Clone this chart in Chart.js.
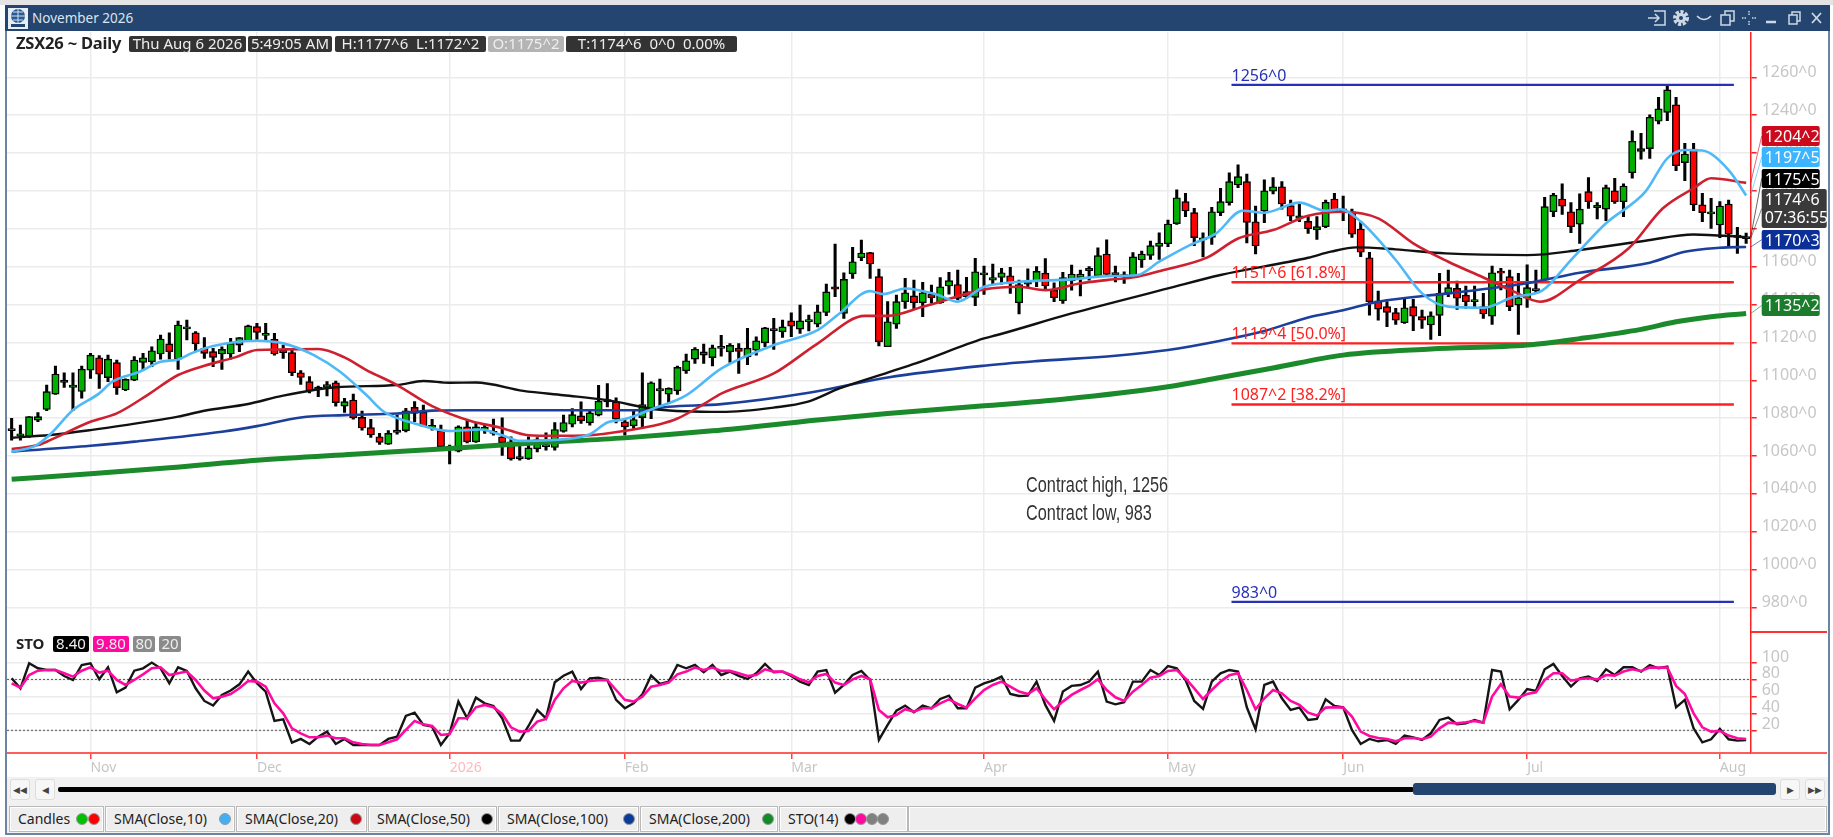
<!DOCTYPE html>
<html>
<head>
<meta charset="utf-8">
<title>November 2026</title>
<script src="https://cdn.jsdelivr.net/npm/chart.js@4"></script>
<style>
html, body { margin: 0; padding: 0; background: #fff; width: 1833px; height: 837px; overflow: hidden; font-family: "Noto Sans", sans-serif; }
body { filter: blur(0.35px); }
.abs { position: absolute; }
canvas { position: absolute; left: 7px; display: block; }
.pill { position: absolute; height: 16px; line-height: 15px; border-radius: 2px; background: #333; color: #eee; font-size: 15px; text-align: center; white-space: pre; }
.tab { position: absolute; top: 806px; height: 24px; line-height: 23px; background: #eee; border: 1px solid #b9b9b9; box-shadow: inset 0 0 0 1px #fff; font-size: 14px; color: #222; padding-left: 8px; box-sizing: content-box; white-space: nowrap; }
.dot { position: absolute; top: 6px; width: 12px; height: 12px; border-radius: 50%; border: 1px solid #999; box-sizing: border-box; }
.btn { position: absolute; top: 779px; width: 20px; height: 21px; background: #f7f7f7; border: 1px solid #ddd; border-radius: 3px; color: #444; font-size: 9px; line-height: 20px; text-align: center; box-sizing: border-box; }
</style>
</head>
<body>
<!-- window frame -->
<div class="abs" style="left:0;top:0;width:1833px;height:5px;background:#e4e4e4"></div>
<div class="abs" style="left:5px;top:5px;width:2px;height:830px;background:#6d84a0"></div>
<div class="abs" style="left:1828px;top:5px;width:2px;height:830px;background:#6d84a0"></div>
<div class="abs" style="left:5px;top:5px;width:1825px;height:26px;background:#24456f"></div>
<svg class="abs" style="left:8px;top:8px" width="20" height="21" viewBox="0 0 20 21">
  <rect width="20" height="21" fill="#e8eef5"/><circle cx="10" cy="8" r="7" fill="#2b5a92"/>
  <path d="M3 8h14M10 1v14M5 4h10M5 12h10" stroke="#cfe0f2" stroke-width="1" fill="none"/><rect x="3" y="16" width="14" height="3" fill="#24456f"/>
</svg>
<div class="abs" style="left:32px;top:8px;color:#dce4ee;font-size:13.5px;line-height:20px">November 2026</div>
<svg class="abs" style="left:1645px;top:7px" width="182" height="22" fill="none" stroke="#cdd8e4" stroke-width="1.5">
  <path d="M3 11h11M10 7l4 4-4 4M9 4h11v14H9" />
  <circle cx="36" cy="11" r="6" stroke-width="4" stroke-dasharray="3 1.5"/><circle cx="36" cy="11" r="5" fill="#cdd8e4" stroke="none"/><circle cx="36" cy="11" r="2" fill="#24456f" stroke="none"/>
  <path d="M52 9q7 7 14 0"/>
  <path d="M76 8h9v10h-9zM80 8V4h9v10h-4"/>
  <path d="M104 4v4M104 14v4M97 11h4M107 11h4" stroke-dasharray="1.5 1"/>
  <path d="M121 15h10" stroke-width="2.5"/>
  <path d="M144 8h8v9h-8zM147 8V5h8v9h-3"/>
  <path d="M167 6l9 10M176 6l-9 10" stroke-width="1.8"/>
</svg>

<canvas id="priceChart" width="1820" height="600" style="top:32px"></canvas>
<canvas id="stoChart" width="1820" height="145" style="top:632px"></canvas>

<!-- right of the plot: pane divider and bottom rule go on past the scale -->
<div class="abs" style="left:1751px;top:631px;width:76px;height:1.5px;background:#ff3030"></div>
<div class="abs" style="left:1751px;top:752px;width:76px;height:2px;background:#ff5c5c"></div>

<!-- readout row -->
<div class="abs" style="left:16px;top:33px;font-size:16.5px;font-weight:700;color:#222;line-height:20px;letter-spacing:-.2px">ZSX26 ~ Daily</div>
<div class="pill" style="left:129px;top:36px;width:117px">Thu Aug 6 2026</div>
<div class="pill" style="left:248px;top:36px;width:84px">5:49:05 AM</div>
<div class="pill" style="left:335px;top:36px;width:151px">H:1177^6  L:1172^2</div>
<div class="pill" style="left:488px;top:36px;width:76px;background:#b4b4b4">O:1175^2</div>
<div class="pill" style="left:566px;top:36px;width:171px">T:1174^6  0^0  0.00%</div>

<!-- stochastic readout -->
<div class="abs" style="left:16px;top:633px;font-size:15px;font-weight:700;color:#222;line-height:20px">STO</div>
<div class="pill" style="left:53px;top:636px;width:36px;background:#000">8.40</div>
<div class="pill" style="left:93px;top:636px;width:36px;background:#ff0aa0">9.80</div>
<div class="pill" style="left:133px;top:636px;width:22px;background:#8a8a8a">80</div>
<div class="pill" style="left:159px;top:636px;width:22px;background:#8a8a8a">20</div>

<!-- scroller -->
<div class="abs" style="left:7px;top:777px;width:1821px;height:29px;background:#f1f1f1"></div>
<div class="btn" style="left:10px">&#9664;&#9664;</div>
<div class="btn" style="left:35px">&#9664;</div>
<div class="abs" style="left:58px;top:787px;width:1356px;height:5px;background:#000;border-radius:2px"></div>
<div class="abs" style="left:1413px;top:783px;width:363px;height:12px;background:#24456f;border-radius:3px"></div>
<div class="btn" style="left:1780px">&#9654;</div>
<div class="btn" style="left:1805px">&#9654;&#9654;</div>

<!-- study tabs -->
<div class="abs" style="left:7px;top:804px;width:1821px;height:29px;background:#f1f1f1"></div>
<div class="abs" style="left:5px;top:833px;width:1825px;height:2px;background:#6d84a0"></div>
<div class="tab" style="left:9px;width:85px">Candles<span class="dot" style="left:66px;background:#00c000"></span><span class="dot" style="left:78px;background:#ff0000"></span></div>
<div class="tab" style="left:105px;width:120px">SMA(Close,10)<span class="dot" style="left:113px;background:#3fb0f5"></span></div>
<div class="tab" style="left:236px;width:121px">SMA(Close,20)<span class="dot" style="left:113px;background:#c80a14"></span></div>
<div class="tab" style="left:368px;width:119px">SMA(Close,50)<span class="dot" style="left:112px;background:#000"></span></div>
<div class="tab" style="left:498px;width:131px">SMA(Close,100)<span class="dot" style="left:124px;background:#0a3a9a"></span></div>
<div class="tab" style="left:640px;width:128px">SMA(Close,200)<span class="dot" style="left:121px;background:#128a28"></span></div>
<div class="tab" style="left:779px;width:119px">STO(14)<span class="dot" style="left:64px;background:#000"></span><span class="dot" style="left:75px;background:#ff0aa0"></span><span class="dot" style="left:86px;background:#808080"></span><span class="dot" style="left:97px;background:#808080"></span></div>
<div class="tab" style="left:908px;width:909px"></div>

<script>
// month labels on the time axis, and the bar each month starts at
const monthLabels = ['Nov', 'Dec', '2026', 'Feb', 'Mar', 'Apr', 'May', 'Jun', 'Jul', 'Aug'];
const monthStarts = [9, 28, 50, 70, 89, 111, 132, 152, 173, 195];

const priceTicks = [980, 1000, 1020, 1040, 1060, 1080, 1100, 1120, 1140, 1160, 1180, 1200, 1220, 1240, 1260];
const stoTicks = [20, 40, 60, 80, 100];

// daily candles, one entry per bar
const highs = [
  1079.9,1076.4,1080.8,1082.9,1097.5,1107.5,1104,1104,1107.5,1114.2,
  1113,1113.3,1110.7,1100.8,1112.5,1114.2,1117.7,1123.9,1125.1,1131.3,
  1131.8,1125.7,1122.5,1116.9,1117.7,1122.1,1122.5,1129.2,1130.1,1130.1,
  1124.8,1118.6,1116,1105.1,1101.9,1097,1099.3,1099.6,1090.5,1092.7,
  1083.8,1079.4,1072,1073.4,1081.6,1085.2,1088.7,1086.9,1079.4,1076.4,
  1065.8,1075.9,1078.9,1077.7,1076.8,1079.5,1080.2,1070.1,1066.7,1070.1,
  1069.8,1072.2,1077.7,1081.6,1085.1,1088.6,1084.6,1097.4,1098.3,1090.7,
  1079.8,1084.2,1103.9,1099.2,1100.6,1096,1107.5,1113.8,1117.3,1119.1,
  1118.6,1123.8,1119.4,1119.4,1127.4,1123,1127.9,1132.7,1131.8,1135.6,
  1139.7,1134.4,1139.7,1150.8,1171.9,1156.8,1170.2,1174,1167.5,1158.7,
  1141.5,1145,1153.8,1152.9,1151.7,1150.3,1154.2,1157,1158.2,1154.3,
  1164.4,1160.3,1161.4,1159.1,1159.6,1152.9,1158.9,1160,1164.2,1151.5,
  1157,1160.8,1158.2,1160,1170,1174.1,1160.3,1157.3,1167.4,1168.2,
  1173.5,1177.9,1184.6,1200.5,1198.7,1190.8,1177.9,1191.3,1201.3,1209.6,
  1213.7,1208.9,1192,1205.8,1207,1204.9,1195.2,1193.8,1186.4,1186.4,
  1195.2,1198.7,1197.3,1190.4,1183.8,1167.6,1147.1,1141.5,1138,1143.3,
  1142.7,1137.1,1136.2,1156.5,1158.2,1152.4,1149.8,1149.8,1145.9,1160.3,
  1159.1,1158.2,1156.5,1160.9,1158.2,1196.6,1198.7,1203.7,1193.8,1198.4,
  1207,1193.8,1203.1,1206.7,1203.7,1231.7,1230.4,1240.1,1249.4,1256,
  1249.4,1225.1,1225.1,1198.7,1196.1,1194.3,1195.2,1180.8,1177.75
];
const opens = [
  1073.4,1070.6,1070.2,1079,1084.6,1092.7,1100,1096.3,1094.1,1105.4,
  1111.9,1101.4,1109.3,1094.9,1100.1,1109.5,1109.8,1113.9,1119.2,1111.1,
  1127.1,1125.1,1116.9,1115.1,1113.9,1113.9,1118.6,1120.9,1128.3,1123.7,
  1121.6,1114.6,1114.6,1104,1099.3,1095.2,1096.3,1098.7,1086.4,1089.6,
  1080.4,1075,1070.2,1066.3,1072.5,1073.4,1085.7,1083.1,1075.1,1073.4,
  1064,1062.6,1075.4,1067.5,1074,1071.9,1070.1,1067.5,1058.5,1058.5,
  1063.8,1064.9,1064.5,1073,1076.8,1081.2,1077.5,1081.6,1088.6,1088.6,
  1078.1,1075.9,1080.3,1085.1,1094.4,1092.7,1094.4,1105,1111.2,1115,
  1112,1116.8,1115,1117,1112.4,1115.9,1119.8,1126.1,1125.6,1131.4,
  1127,1130.9,1129.7,1135.8,1149.4,1135.3,1156.2,1164.7,1167.4,1154.7,
  1117.7,1129.7,1141.5,1144.6,1140.9,1145.5,1140.9,1149.8,1150.6,1146.8,
  1143.8,1155.6,1152.9,1154.3,1155.2,1140.9,1150.8,1152,1156.6,1147.6,
  1142,1152.6,1154.2,1157.9,1155.2,1166.7,1156.4,1154.7,1154.3,1163.5,
  1166,1170.7,1172.1,1182.7,1194.3,1188.5,1174.1,1175.5,1188.5,1193.8,
  1203.1,1204.9,1183.7,1189.4,1199.8,1202.2,1192.2,1185.5,1183.9,1179.4,
  1181.1,1195.7,1189.4,1189,1179.9,1164.7,1142,1138.9,1135.7,1130.4,
  1138.9,1133.6,1129.2,1134.3,1145.9,1148.5,1145,1141.5,1138.9,1133.9,
  1157.7,1154.7,1139.7,1143.3,1147.3,1152.9,1189,1195.7,1189,1182.5,
  1199.6,1191.2,1190.4,1200.1,1194.3,1209.6,1220.9,1222.3,1236.8,1241.5,
  1245.4,1214.9,1222.1,1192.6,1187.8,1182,1193.1,1176.5,1175.25
];
const closes = [
  1073.4,1070.6,1080.8,1080.8,1094,1103.3,1098.9,1096.3,1105.9,1113.3,
  1103.3,1111.2,1096.1,1100.5,1110.7,1111.9,1115.6,1121.8,1115.1,1129.2,
  1127.1,1119.2,1114.2,1112.1,1116.3,1119.5,1122.5,1128.7,1125.3,1123.7,
  1113.9,1114.6,1104,1101.5,1094.5,1095.2,1097.8,1088.2,1088.7,1080.2,
  1074.8,1071.1,1067.2,1072,1072.5,1083.9,1082.5,1075.8,1075.1,1064.9,
  1064,1075.4,1067.5,1075.4,1074,1071.9,1067,1058.5,1058.5,1064.3,
  1068.7,1064.9,1074,1077.7,1081.9,1078.6,1082.8,1089,1088.6,1079.5,
  1075.4,1079.3,1087.2,1098.7,1094.4,1095.7,1106.8,1110.3,1116.4,1113.3,
  1117.2,1116.8,1118.4,1115.2,1117,1120.9,1127.7,1127,1128.2,1128.6,
  1131.4,1130.9,1136.2,1146.7,1148.1,1153.3,1162.6,1167.2,1161.4,1120.3,
  1130.9,1141.5,1146.2,1140.9,1146.2,1143.6,1149.4,1152.6,1143.2,1144.1,
  1157.3,1155.6,1154.2,1156.8,1151.2,1150.6,1151.9,1157.5,1149.8,1143.6,
  1154.2,1156.1,1156.1,1157.9,1165.8,1155.9,1155.7,1154.7,1165.2,1166.7,
  1171.1,1172.5,1182.5,1196.4,1189.4,1175.3,1174.1,1189,1194.3,1204.9,
  1207.5,1183.4,1170.9,1200.1,1202.2,1193.1,1186.7,1186.9,1180,1181.1,
  1194,1189.6,1189.4,1177.2,1167.6,1141.5,1137.6,1135.9,1131.8,1138.3,
  1133.9,1131.8,1134.1,1145.9,1148.9,1143.3,1141.5,1141.5,1135,1156.8,
  1156.5,1138.9,1143.6,1148.9,1147.3,1191.7,1197.8,1192,1181.1,1190.4,
  1194.3,1191.2,1201.7,1194.3,1202.6,1226.2,1222.3,1238.9,1243.3,1253.3,
  1213.3,1219.5,1192.6,1188.5,1187.8,1192,1177.2,1175.5,1174.75
];
const lows = [
  1068.4,1068.4,1069.8,1078.1,1083.9,1092.6,1096.3,1083.9,1090.5,1101,
  1095.7,1099.3,1092.6,1094.5,1099.8,1105.4,1107.2,1111.1,1111.1,1105.8,
  1121.3,1115.6,1111.6,1107.2,1105.8,1111.1,1115.1,1120.4,1121.6,1120.9,
  1113.3,1111.6,1102.4,1097.8,1093.4,1091.3,1091.7,1086.4,1083.1,1079.5,
  1073.7,1069.8,1066.1,1066.1,1071.6,1072.8,1078.1,1075.5,1073.7,1064.9,
  1055.8,1062.2,1067,1067.2,1071.9,1071,1060.4,1057.8,1057.8,1058.2,
  1062.2,1063.1,1063.1,1072.6,1075.4,1077.2,1076.3,1081.2,1086,1077.5,
  1071,1074.6,1075.4,1079.8,1085.1,1087.7,1092.5,1103.6,1108.9,1108.9,
  1107.6,1112.8,1109.4,1103.6,1108.3,1113.3,1117.7,1116.3,1122.6,1123,
  1124.7,1126.1,1128.2,1134.1,1144.1,1132.7,1153.8,1163.1,1153.8,1118.2,
  1117.7,1127.4,1138,1137.4,1133.6,1140.9,1140.6,1145.5,1142.4,1143.2,
  1139.4,1145.3,1150.6,1150.8,1145.9,1135,1148.9,1149.4,1148,1141.5,
  1140.6,1147.6,1144.6,1152.9,1154.7,1154.7,1152,1151.2,1154.3,1159.6,
  1163.8,1163.8,1170.5,1182.3,1186.4,1171.1,1165.2,1171.8,1186.9,1192.5,
  1201.7,1172.6,1166.7,1183.2,1198.4,1190.3,1184.3,1183.7,1177.6,1174.4,
  1180.6,1189,1184.3,1175.5,1165.3,1134.4,1131.8,1128.3,1129.5,1130,
  1126.2,1127.4,1121.6,1123.5,1144.1,1137.4,1138,1138.9,1132.7,1129.5,
  1147.7,1136.7,1124.2,1138.5,1146.2,1152.6,1186.4,1187.6,1177.9,1172.3,
  1190.8,1185.2,1184.3,1193.4,1186.4,1206.7,1216.7,1217.2,1235.4,1237.1,
  1210.7,1205.4,1189.6,1183.8,1180.2,1175.3,1170.6,1167,1172.25
];

// moving averages at the bars where they bend
const sma10Bars = [0,2.7,4.5,7,10,11.5,14.6,17,19,20.5,23,28,31,34.5,37.5,40.5,42.5,46,50,53.5,56,58,61.5,66,68,70,73,77,81,87,92,94.5,98,99.5,102,105.5,108,111,115,121,125,128.5,131,134.5,137.5,140.5,143,147,150,151.7,154,158,161,164,168,171.5,174.7,178,182,186.5,189,191,193,196,198];
const sma10Vals = [1062.3,1065.4,1071.9,1084.3,1093.1,1099.3,1104.5,1109.8,1111,1114.2,1118.1,1120.9,1119.5,1113.3,1104.5,1092.2,1083.4,1077.2,1073.2,1074,1071,1068,1068.4,1071.5,1077.7,1079.5,1084.6,1092.1,1106.2,1118.6,1126.5,1135.3,1147.1,1145.5,1148.5,1145.4,1141.5,1149.4,1152,1153.3,1155,1155.6,1162.6,1171.4,1177.6,1189.5,1188.5,1193.8,1189.5,1190.3,1183.8,1163.5,1145.9,1138.9,1138.3,1144.1,1147.3,1163.5,1182.9,1199.6,1217.2,1221.6,1221.3,1211,1197.6];
const sma20Bars = [0,3,4.4,9,12,15.5,19,22,25.5,28,31,35,38,40.5,44,48,52.5,55.8,59,62,66,70,74,76,79,81,87,92,97.4,100,104,108.5,111,115,118,122,125,128.5,131.5,136.5,140,144,148,152,156,160,164,168,171.5,174.5,179,184.6,188.5,192,194,198];
const sma20Vals = [1063.7,1065.8,1068.4,1078.1,1082.5,1092.2,1102.8,1107.7,1112.1,1116,1116.3,1116.5,1112.1,1105.4,1097.5,1086.4,1078.4,1075,1071,1070.7,1071,1073.3,1076.8,1079.8,1087.4,1093,1103.6,1119.4,1134,1134,1138.8,1145,1148,1149.4,1147.6,1151.2,1152.9,1154.7,1158.2,1164.9,1174.9,1179.3,1186.9,1189,1185.5,1172.3,1162.6,1154.3,1146.8,1141.5,1152.9,1169.7,1190.8,1201.4,1206.7,1204.25];
const sma50Bars = [0,4.4,9,15,19,22,27,31,37,44,47,50,53,58.4,63,68,73.7,81,87,90.8,94.5,100,103.2,111,112.5,121,132,138,148,150.6,153.5,158,163.7,173,179,186.5,192,198];
const sma50Vals = [1069.7,1071.1,1073.7,1077.8,1080.8,1083.9,1087.5,1091.9,1096.3,1097.5,1099.6,1098.7,1098.8,1094.4,1092.1,1089.5,1084.6,1083.3,1085.6,1088.6,1095.7,1104.1,1108.9,1122.1,1123.9,1135.3,1148.5,1155.6,1164.7,1167.9,1170.2,1169.1,1167,1166.1,1168.8,1173.7,1177,1175.6];
const sma100Bars = [0,9,14,24,28,33,38,44,48,52,72,75,81,91,100,111,117,126,132,138,143,148,152,156,164,173,179,187,191,195,198];
const sma100Vals = [1062.3,1065.4,1067.6,1072.8,1075.8,1080.4,1081.6,1082.5,1084,1084.2,1084.2,1086,1087.4,1093.4,1101.5,1107.7,1110.1,1113,1116,1120.9,1126,1133.2,1137,1141.5,1145.9,1151.2,1156.8,1162.1,1167.9,1170,1170.4];
const sma200Bars = [0,9,18,28,39,50,60,70,80,92,100,111,120,132,138,144,152,162,173,179,186,190,194,198];
const sma200Vals = [1047.8,1050.6,1053.8,1057.8,1061,1064,1067,1069.6,1073.3,1079,1082.5,1086.5,1090,1096.6,1101.5,1106.5,1113.3,1116.5,1118.6,1122,1126.9,1130.9,1133.6,1135.25];

// fibonacci levels and contract extremes
const fibLevels = [1256, 1151.75, 1119.5, 1087.25, 983];
const fibTexts = ['1256^0', '1151^6 [61.8%]', '1119^4 [50.0%]', '1087^2 [38.2%]', '983^0'];
const fibColors = ['#2630b8', '#ff2020', '#ff2020', '#ff2020', '#2630b8'];
const fibRange = [139.25, 196.6];

const noteTexts = ['Contract high, 1256', 'Contract low, 983'];
const notePrices = [1041, 1026];
const noteBar = 115.8;

// stochastic %K and %D, one entry per bar
const stoK = [
  81.3,69.5,99,93.1,91.1,91.1,84,79.3,97,99,
  80.1,94.3,64.8,70.3,90.3,93.1,99.8,93.1,75.4,94.3,
  90,69.5,54.6,49.1,61.6,66.8,74.2,89.2,75.4,65.6,
  31,33,5.4,9.8,3.9,12.5,18.4,3.9,9.8,2.7,
  2.7,2.7,2.7,9.8,12.5,36.9,40.8,26.3,24.3,2.7,
  16.4,53.8,34.1,58.5,51.8,48.7,34.1,7.8,7.8,25.1,
  44,34.1,76.6,84.4,89.2,68.7,81.3,82.1,79.3,55.8,
  46,51.8,62.4,84.5,74.6,77.4,97,93.1,97,88.4,
  97,85.2,89.2,84.1,80.5,87.2,98.2,88.4,89.2,84.1,
  77.4,73.4,89.2,91.1,64.4,73.4,85.2,90,79.3,8.6,
  26.3,43.2,49.1,41.2,49.1,45.9,56.9,60.9,45.9,45.9,
  70.3,75.4,78.6,83.3,62.8,60.5,60.9,77.4,49.9,31,
  65.6,72.3,73.4,77.4,89.2,53.8,50.6,53,77.4,77.4,
  91.1,85.2,95.8,93.1,79.3,54.6,45.2,77.4,87.2,91.1,
  89.2,47.1,21.2,73.4,77.4,57.7,44,46.7,32.2,33.4,
  56.5,48.7,47.1,20.4,3.9,9.8,7,8.6,3.9,13.7,
  11.7,8.6,16.4,32.2,34.9,27.1,28.2,32.2,29,91.1,
  89.2,44.7,55.8,68.7,66.4,91.9,98.2,84,71.5,81.3,
  83.3,78.2,91.9,85.2,94.3,94.3,89.2,97,93.1,95.1,
  47.1,55.8,22.3,5.8,9.4,21.6,9.4,7.8,8.4
];
const stoD = [
  75.4,70.3,85.2,90.3,91.1,91.1,87.2,83.3,90.3,94.3,
  88,90.3,79.3,73.4,79.3,86,93.1,94.3,85.2,87.2,
  89.2,79.3,66.8,57.7,59.7,62.8,69.5,78.1,77.4,71.5,
  51.8,40,22.3,16.4,11.7,11.7,13.7,10.6,10.6,5.8,
  3.9,2.7,2.7,5.8,9.4,20.4,31,27,25.1,14.5,
  15.7,34.1,34.1,47.1,49.9,47.1,39.2,23.5,18.4,19.2,
  30.2,33.4,55.8,69.5,78.1,76.2,78.1,79,79.3,67.5,
  56,53.8,59.7,71.5,73.4,76.2,86,89.2,93.9,91.1,
  93.9,90,90,87.2,84.1,85.2,91.9,89.2,89.2,85.2,
  80.1,76.6,84.1,86.4,76.2,73.4,80.1,84.1,80.1,44,
  35.3,38.1,44.8,42,45.9,45.9,51.8,56.5,51,46.7,
  57.7,67.5,73.4,77.4,71.5,65.6,62.8,69.5,56.5,44.8,
  53.8,61.7,67.5,72.7,80.1,67.5,58.9,54.6,65.6,73.4,
  82.1,84.1,90,91.1,81.3,69.5,56.9,67.5,77.4,85,
  87.2,67.5,44.7,57.7,67.5,63.6,54.6,49.9,40.8,37.3,
  46.7,47.1,46.7,36.1,18.4,13.3,10.9,9.8,7,10.6,
  10.9,9.4,12.5,22.3,29,28.2,29.4,31,29,59.7,
  74.2,59.7,58.5,62.8,64.8,79.3,87.2,87.2,78.5,80.5,
  81.3,80.1,85.2,84.4,89.2,91.9,90,93.9,93.9,93.9,
  72.3,62.8,40,23.5,18.4,19.2,13.7,10.6,9.8
];
const stoLevels = [80, 20];

// tags on the price scale: text, last value of the series, colour
const tagTexts = ['1204^2', '1197^5', '1175^5', '1174^6', '1170^3', '1135^2'];
const tagValues = [1204.25, 1197.6, 1175.6, 1174.75, 1170.4, 1135.25];
const tagColors = ['#cc0a1e', '#3db4ff', '#000000', '#3a3a3a', '#0b2f96', '#1b7d2b'];
const countdown = '07:36:55';

const axisFont = { family: "'Noto Sans', sans-serif", size: 16 };
const barMin = -0.53, barMax = 198.52;
const greenBody = '#00b000', redBody = '#ff0000';

function toPoints(xs, ys) {
    return ys.map((y, i) => ({ x: xs[i], y: y }));
}
function smaLine(xs, ys, color, width, order) {
    return {
        type: 'line', data: toPoints(xs, ys), borderColor: color, borderWidth: width,
        pointRadius: 0, cubicInterpolationMode: 'monotone', order: order
    };
}
function monthAxis(showLabels) {
    return {
        type: 'linear', min: barMin, max: barMax, offset: false,
        afterBuildTicks: s => { s.ticks = monthStarts.map(v => ({ value: v })); },
        grid: { color: '#ececec', lineWidth: 1.5, offset: false, drawTicks: showLabels, tickLength: 6, tickColor: '#ff4040' },
        border: { display: showLabels, color: '#ff5c5c', width: 2 },
        ticks: {
            display: showLabels, autoSkip: false, maxRotation: 0, align: 'start', padding: 1,
            font: { family: axisFont.family, size: 14 },
            color: c => monthLabels[c.index] === '2026' ? '#ffb9b9' : '#c6c6c6',
            callback: (v, i) => monthLabels[i]
        },
        // no spare room for labels overhanging the plot ends
        afterFit: s => { s.height = showLabels ? 24 : 0; s.paddingLeft = 0; s.paddingRight = 0; }
    };
}
function valueAxis(min, max, tickValues, fmt, offset) {
    return {
        position: 'right', min: min, max: max,
        afterBuildTicks: s => { s.ticks = tickValues.map(v => ({ value: v })); },
        afterFit: s => { s.width = 76.3; s.paddingTop = 0; s.paddingBottom = 0; },
        grid: { color: '#ececec', lineWidth: 1.5, tickLength: 6, tickColor: '#ff2020', tickWidth: 1.5 },
        border: { color: '#ff2020', width: 1.5 },
        ticks: { autoSkip: false, padding: 5, labelOffset: offset, font: axisFont, color: '#c6c6c6', callback: fmt }
    };
}

// fib labels, the two notes and the tags on the scale
const priceMarks = {
    id: 'priceMarks',
    afterDatasetsDraw(chart) {
        const c = chart.ctx, x = chart.scales.x, y = chart.scales.y;
        c.save();
        c.textBaseline = 'alphabetic';
        c.textAlign = 'left';
        c.font = "16px 'Noto Sans', sans-serif";
        fibTexts.forEach((t, i) => {
            c.fillStyle = fibColors[i];
            c.fillText(t, x.getPixelForValue(fibRange[0]), y.getPixelForValue(fibLevels[i]) - 4);
        });
        // the note lettering is tall and narrow
        c.fillStyle = '#333';
        c.font = "22px 'Liberation Sans', sans-serif";
        noteTexts.forEach((t, i) => {
            c.save();
            c.translate(x.getPixelForValue(noteBar), y.getPixelForValue(notePrices[i]));
            c.scale(0.74, 1);
            c.fillText(t, 0, 0);
            c.restore();
        });

        const tops = [94, 115, 137, 157, 198, 263];
        const heights = [20, 20, 19, 39, 19.5, 21];
        c.font = "16px 'Noto Sans', sans-serif";
        const left = chart.chartArea.right + 11;
        tagTexts.forEach((t, i) => {
            const w = i === 3 ? 65 : 58;
            // line from the end of the series up to its tag
            c.strokeStyle = tagColors[i];
            c.globalAlpha = 0.6;
            c.lineWidth = 1;
            c.beginPath();
            c.moveTo(chart.chartArea.right, y.getPixelForValue(tagValues[i]));
            c.lineTo(left, tops[i] + heights[i] / 2);
            c.stroke();
            c.globalAlpha = 1;
            c.fillStyle = tagColors[i];
            c.beginPath();
            c.roundRect(left, tops[i], w, heights[i], 2);
            c.fill();
            c.fillStyle = '#fff';
            c.fillText(t, left + 3, tops[i] + 15.5);
            if (i === 3) c.fillText(countdown, left + 3, tops[i] + 34);
        });
        c.restore();
    }
};

const barIndex = highs.map((_, i) => i);

new Chart(document.getElementById('priceChart').getContext('2d'), {
    type: 'bar',
    plugins: [priceMarks],
    data: {
        datasets: [
            {
                data: barIndex.map(i => ({ x: i, y: [lows[i], highs[i]] })),
                backgroundColor: '#000', barThickness: 2.4, grouped: false, order: 10
            },
            {
                data: barIndex.map(i => ({ x: i, y: [opens[i], closes[i]] })),
                backgroundColor: barIndex.map(i => closes[i] >= opens[i] ? greenBody : redBody),
                borderColor: '#000', borderWidth: 1.4, borderSkipped: false,
                barThickness: 7.4, minBarLength: 2.2, grouped: false, order: 9
            },
            ...fibLevels.map((v, i) => ({
                type: 'line', data: toPoints(fibRange, [v, v]), borderColor: fibColors[i],
                borderWidth: 2.4, pointRadius: 0, order: 8
            })),
            smaLine(sma200Bars, sma200Vals, '#1b8a2b', 5, 7),
            smaLine(sma100Bars, sma100Vals, '#1c3f9c', 2.6, 6),
            smaLine(sma50Bars, sma50Vals, '#111111', 2.4, 5),
            smaLine(sma20Bars, sma20Vals, '#cf2030', 2.6, 4),
            smaLine(sma10Bars, sma10Vals, '#4fb9f7', 2.6, 3)
        ]
    },
    options: {
        responsive: false, animation: false, devicePixelRatio: 1,
        layout: { padding: 0 },
        plugins: { legend: { display: false }, tooltip: { enabled: false } },
        scales: {
            x: monthAxis(false),
            y: valueAxis(967.1, 1283.9, priceTicks, v => v + '^0', -5)
        }
    }
});

new Chart(document.getElementById('stoChart').getContext('2d'), {
    type: 'line',
    data: {
        datasets: [
            ...stoLevels.map(v => ({
                data: toPoints([barMin, barMax], [v, v]), borderColor: '#555',
                borderWidth: 1, borderDash: [2, 2], pointRadius: 0, order: 5
            })),
            {
                data: barIndex.map(i => ({ x: i, y: stoK[i] })), borderColor: '#151515',
                borderWidth: 2.4, pointRadius: 0, order: 2
            },
            {
                data: barIndex.map(i => ({ x: i, y: stoD[i] })), borderColor: '#ff0aa0',
                borderWidth: 2.6, pointRadius: 0, order: 1
            }
        ]
    },
    options: {
        responsive: false, animation: false, devicePixelRatio: 1,
        layout: { padding: 0 },
        plugins: { legend: { display: false }, tooltip: { enabled: false } },
        scales: {
            x: monthAxis(true),
            y: valueAxis(-6.8, 135.9, stoTicks, v => String(v), -5.5)
        }
    }
});
</script>
</body>
</html>
